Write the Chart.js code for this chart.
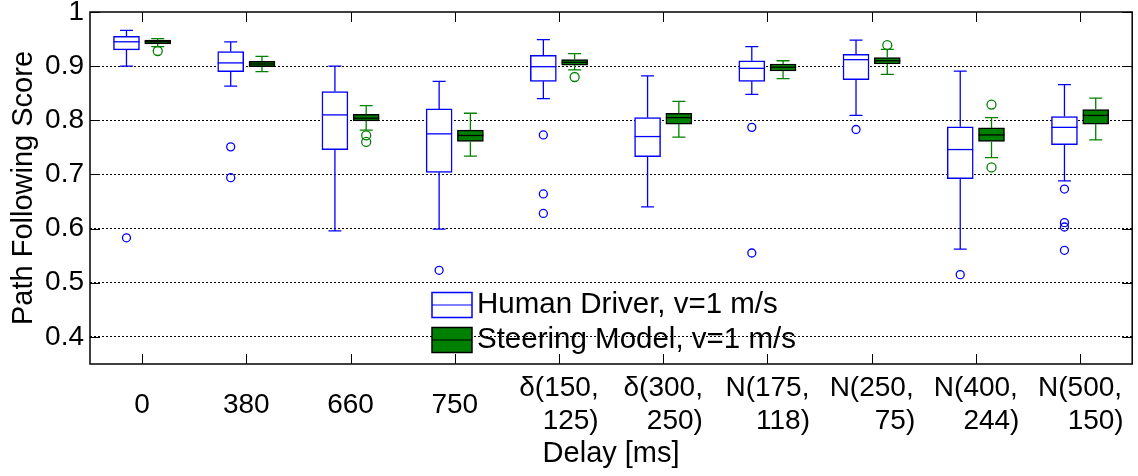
<!DOCTYPE html>
<html lang="en">
<head>
<meta charset="UTF-8">
<title>Path Following Score vs Delay</title>
<script src="https://cdn.jsdelivr.net/npm/chart.js"></script>
<style>
    html, body { margin: 0; padding: 0; background: #fff; }
    canvas { display: block; }
</style>
</head>
<body>
<canvas id="boxChart" width="1138" height="476"></canvas>

<script>
    // Delay conditions (second line padded so both lines end together)
    const delays = ['0', '380', '660', '750',
        ['δ(150,', '   125)'], ['δ(300,', '   250)'],
        ['N(175,', '    118)'], ['N(250,', '      75)'],
        ['N(400,', '    244)'], ['N(500,', '    150)']];
    const yTicks = [0.4, 0.5, 0.6, 0.7, 0.8, 0.9, 1];

    // [lower whisker, q1, median, q3, upper whisker] per delay
    const humanStats = [
        [0.900, 0.930, 0.945, 0.955, 0.966],
        [0.863, 0.890, 0.906, 0.927, 0.945],
        [0.596, 0.746, 0.810, 0.853, 0.900],
        [0.599, 0.704, 0.775, 0.821, 0.872],
        [0.840, 0.872, 0.899, 0.920, 0.949],
        [0.640, 0.733, 0.770, 0.805, 0.882],
        [0.848, 0.872, 0.896, 0.910, 0.936],
        [0.809, 0.875, 0.912, 0.922, 0.948],
        [0.562, 0.692, 0.746, 0.788, 0.891],
        [0.688, 0.755, 0.787, 0.807, 0.866]
    ];
    const humanOutliers = [
        [0.583], [0.751, 0.694], [], [0.523], [0.773, 0.664, 0.628],
        [], [0.787, 0.555], [0.783], [0.515], [0.673, 0.611, 0.603, 0.560]
    ];

    const modelStats = [
        [0.936, 0.941, 0.945, 0.948, 0.951],
        [0.890, 0.899, 0.904, 0.909, 0.918],
        [0.782, 0.799, 0.804, 0.811, 0.827],
        [0.734, 0.761, 0.772, 0.782, 0.813],
        [0.893, 0.902, 0.907, 0.912, 0.923],
        [0.769, 0.793, 0.805, 0.813, 0.835],
        [0.877, 0.891, 0.898, 0.904, 0.910],
        [0.885, 0.904, 0.910, 0.916, 0.931],
        [0.731, 0.761, 0.773, 0.786, 0.805],
        [0.764, 0.793, 0.809, 0.820, 0.841]
    ];
    const modelOutliers = [
        [0.928], [], [0.772, 0.760], [], [0.880],
        [], [], [0.939], [0.829, 0.713], []
    ];

    const BLUE = '#0000ff';
    const GREEN = '#008000';
    const FONT = '"Liberation Sans", Arial, Helvetica, sans-serif';
    const SHIFT = 0.15; // half the distance between paired boxes

    function boxPoints(stats, dx) {
        return stats.map((s, i) => ({ x: i + 1 + dx, y: [s[1], s[3]] }));
    }

    function outlierPoints(list, dx) {
        const pts = [];
        list.forEach((vals, i) => vals.forEach(v => pts.push({ x: i + 1 + dx, y: v })));
        return pts;
    }

    // whiskers, caps and medians on top of the floating bars
    const boxExtras = {
        id: 'boxExtras',
        afterDatasetsDraw(chart) {
            const { ctx, scales: { y } } = chart;
            const groups = [
                { idx: 0, stats: humanStats, whisker: BLUE, median: BLUE },
                { idx: 1, stats: modelStats, whisker: GREEN, median: '#000' }
            ];
            ctx.save();
            groups.forEach(g => {
                const bars = chart.getDatasetMeta(g.idx).data;
                g.stats.forEach((s, i) => {
                    const b = bars[i];
                    const half = b.width / 2;
                    const cap = b.width / 4;
                    const yLo = y.getPixelForValue(s[0]);
                    const yQ1 = y.getPixelForValue(s[1]);
                    const yMed = y.getPixelForValue(s[2]);
                    const yQ3 = y.getPixelForValue(s[3]);
                    const yHi = y.getPixelForValue(s[4]);

                    ctx.strokeStyle = g.whisker;
                    ctx.lineWidth = 1.3;
                    ctx.beginPath();
                    ctx.moveTo(b.x, yQ3); ctx.lineTo(b.x, yHi);
                    ctx.moveTo(b.x - cap, yHi); ctx.lineTo(b.x + cap, yHi);
                    ctx.moveTo(b.x, yQ1); ctx.lineTo(b.x, yLo);
                    ctx.moveTo(b.x - cap, yLo); ctx.lineTo(b.x + cap, yLo);
                    ctx.stroke();

                    ctx.strokeStyle = g.median;
                    ctx.lineWidth = 1.3;
                    ctx.beginPath();
                    ctx.moveTo(b.x - half, yMed); ctx.lineTo(b.x + half, yMed);
                    ctx.stroke();
                });
            });
            ctx.restore();
        }
    };

    // axes box with inward ticks, plus the legend inside the plot
    const frameAndLegend = {
        id: 'frameAndLegend',
        afterDraw(chart) {
            const { ctx, chartArea: a, scales: { x, y } } = chart;
            ctx.save();
            ctx.strokeStyle = '#000';
            ctx.lineWidth = 1;
            ctx.beginPath();
            x.ticks.forEach((t, i) => {
                const px = Math.round(x.getPixelForTick(i)) + 0.5;
                ctx.moveTo(px, a.bottom); ctx.lineTo(px, a.bottom - 10);
                ctx.moveTo(px, a.top); ctx.lineTo(px, a.top + 10);
            });
            yTicks.forEach(v => {
                const py = Math.round(y.getPixelForValue(v)) + 0.5;
                ctx.moveTo(a.left, py); ctx.lineTo(a.left + 10, py);
                ctx.moveTo(a.right, py); ctx.lineTo(a.right - 10, py);
            });
            ctx.stroke();

            ctx.lineWidth = 1.5;
            ctx.strokeRect(a.left, a.top, a.right - a.left, a.bottom - a.top);

            // legend
            const entries = [
                { ds: chart.data.datasets[0], cy: 305 },
                { ds: chart.data.datasets[1], cy: 340 }
            ];
            const lx = 432, lw = 40, lh = 25;
            ctx.font = '29.5px ' + FONT;
            ctx.textBaseline = 'middle';
            ctx.textAlign = 'left';
            entries.forEach(e => {
                ctx.fillStyle = e.ds.backgroundColor;
                ctx.fillRect(lx, e.cy - lh / 2, lw, lh);
                ctx.strokeStyle = e.ds.borderColor;
                ctx.lineWidth = 1.5;
                ctx.strokeRect(lx, e.cy - lh / 2, lw, lh);
                ctx.lineWidth = 1.2;
                ctx.beginPath();
                ctx.moveTo(lx, e.cy); ctx.lineTo(lx + lw, e.cy);
                ctx.stroke();
                ctx.fillStyle = '#000';
                ctx.fillText(e.ds.label, lx + lw + 5, e.cy);
            });
            ctx.restore();
        }
    };

    Chart.defaults.font.family = FONT;
    Chart.defaults.color = '#000';

    const ctx = document.getElementById('boxChart').getContext('2d');
    const boxChart = new Chart(ctx, {
        type: 'bar',
        data: {
            labels: delays,
            datasets: [
                {
                    label: 'Human Driver, v=1 m/s',
                    xAxisID: 'xo',
                    data: boxPoints(humanStats, -SHIFT),
                    backgroundColor: '#ffffff',
                    borderColor: BLUE,
                    borderWidth: 1.5,
                    borderSkipped: false,
                    grouped: false,
                    barThickness: 26
                },
                {
                    label: 'Steering Model, v=1 m/s',
                    xAxisID: 'xo',
                    data: boxPoints(modelStats, SHIFT),
                    backgroundColor: GREEN,
                    borderColor: '#000000',
                    borderWidth: 1.5,
                    borderSkipped: false,
                    grouped: false,
                    barThickness: 26
                },
                {
                    type: 'scatter',
                    label: 'human outliers',
                    xAxisID: 'xo',
                    data: outlierPoints(humanOutliers, -SHIFT),
                    pointStyle: 'circle',
                    pointRadius: 4,
                    borderColor: BLUE,
                    backgroundColor: 'rgba(0,0,0,0)',
                    borderWidth: 1.3
                },
                {
                    type: 'scatter',
                    label: 'model outliers',
                    xAxisID: 'xo',
                    data: outlierPoints(modelOutliers, SHIFT),
                    pointStyle: 'circle',
                    pointRadius: 4.5,
                    borderColor: GREEN,
                    backgroundColor: 'rgba(0,0,0,0)',
                    borderWidth: 1.3
                }
            ]
        },
        options: {
            responsive: false,
            animation: false,
            events: [],
            layout: { padding: { left: 0, top: 12, right: 5, bottom: 0 } },
            plugins: {
                legend: { display: false },
                tooltip: { enabled: false }
            },
            scales: {
                x: {
                    type: 'category',
                    offset: true,
                    grid: { display: false, drawTicks: false },
                    border: { display: false },
                    ticks: {
                        autoSkip: false,
                        maxRotation: 0,
                        crossAlign: 'center',
                        padding: 24,
                        font: { size: 28, lineHeight: 1.2 }
                    },
                    title: {
                        display: true,
                        text: 'Delay [ms]',
                        font: { size: 29, lineHeight: 1.2 },
                        padding: { top: 0, bottom: 5 }
                    },
                    afterFit: s => { s.height = 112; s.paddingLeft = 0; s.paddingRight = 0; }
                },
                // hidden linear twin of the category axis, carries boxes and outliers
                xo: {
                    type: 'linear',
                    display: false,
                    offset: false,
                    grid: { offset: false },
                    min: 0.5,
                    max: 10.5
                },
                y: {
                    min: 0.35,
                    max: 1,
                    afterBuildTicks: axis => { axis.ticks = yTicks.map(v => ({ value: v })); },
                    grid: {
                        drawTicks: false,
                        lineWidth: 1,
                        color: c => (c.tick && c.tick.value === 1) ? 'rgba(0,0,0,0)' : '#000'
                    },
                    border: { display: false, dash: [2, 2] },
                    ticks: {
                        padding: 6,
                        font: { size: 28, lineHeight: 1.2 },
                        callback: v => String(v)
                    },
                    title: {
                        display: true,
                        text: 'Path Following Score',
                        font: { size: 29, lineHeight: 1.2 },
                        padding: { top: 7, bottom: 0 }
                    },
                    afterFit: s => { s.width = 90; s.paddingTop = 0; s.paddingBottom = 0; }
                }
            }
        },
        plugins: [boxExtras, frameAndLegend]
    });
</script>
</body>
</html>
